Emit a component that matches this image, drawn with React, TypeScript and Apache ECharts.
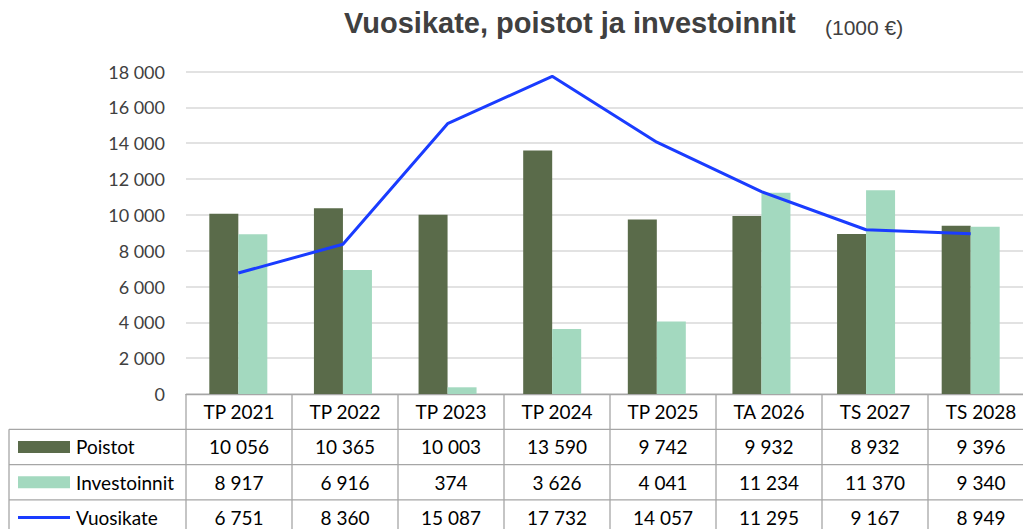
import React, { useEffect, useRef } from "react";
import * as echarts from "echarts";

const categories = ["TP 2021", "TP 2022", "TP 2023", "TP 2024", "TP 2025", "TA 2026", "TS 2027", "TS 2028"];
const poistot = [10056, 10365, 10003, 13590, 9742, 9932, 8932, 9396];
const investoinnit = [8917, 6916, 374, 3626, 4041, 11234, 11370, 9340];
const vuosikate = [6751, 8360, 15087, 17732, 14057, 11295, 9167, 8949];
const seriesNames = ["Poistot", "Investoinnit", "Vuosikate"];
const yMax = 18000;
const yInterval = 2000;

const C_POISTOT = "#5a6b4a";
const C_INVEST = "#a3d9bf";
const C_LINE = "#1a3cff";
const C_BORDER = "#a6a6a6";

const fmt = (v: number) => String(v).replace(/\B(?=(\d{3})+(?!\d))/g, " ");

const GRID_LEFT = 186;
const GRID_TOP = 71.5;
const GRID_W = 848;
const GRID_H = 322.5;
const ROW_H = 35.3;
const LEG_LEFT = 9;
const TABLE_FONT = "Lato, 'Noto Sans', sans-serif";

export default function App() {
  const ref = useRef<HTMLDivElement>(null);
  useEffect(() => {
    document.body.style.margin = "0";
    const chart = echarts.init(ref.current!, undefined, { renderer: "svg" });
    const colW = GRID_W / categories.length;
    const axisY = GRID_TOP + GRID_H;
    const rowsY = [axisY, axisY + ROW_H, axisY + 2 * ROW_H, axisY + 3 * ROW_H, axisY + 4 * ROW_H];
    const right = GRID_LEFT + GRID_W;
    const graphics: any[] = [];
    const lineStyle = { stroke: C_BORDER, lineWidth: 1.3 };
    for (let r = 1; r <= 3; r++) {
      graphics.push({ type: "line", shape: { x1: LEG_LEFT, y1: rowsY[r], x2: right, y2: rowsY[r] }, style: lineStyle, z: 10 });
    }
    for (let c = 0; c <= categories.length; c++) {
      const x = GRID_LEFT + c * colW;
      graphics.push({ type: "line", shape: { x1: x, y1: axisY, x2: x, y2: rowsY[4] }, style: lineStyle, z: 10 });
    }
    graphics.push({ type: "line", shape: { x1: LEG_LEFT, y1: rowsY[1], x2: LEG_LEFT, y2: rowsY[4] }, style: lineStyle, z: 10 });
    const dataRows = [poistot, investoinnit, vuosikate];
    categories.forEach((cat, c) => {
      const cx = GRID_LEFT + (c + 0.5) * colW;
      graphics.push({
        type: "text", x: cx, y: (rowsY[0] + rowsY[1]) / 2,
        style: { text: cat, fill: "#000", font: `19px ${TABLE_FONT}`, align: "center", verticalAlign: "middle" }, z: 11,
      });
      dataRows.forEach((row, r) => {
        graphics.push({
          type: "text", x: cx, y: (rowsY[r + 1] + rowsY[r + 2]) / 2,
          style: { text: fmt(row[c]), fill: "#000", font: `19px ${TABLE_FONT}`, align: "center", verticalAlign: "middle" }, z: 11,
        });
      });
    });
    seriesNames.forEach((name, r) => {
      const cy = (rowsY[r + 1] + rowsY[r + 2]) / 2;
      if (r < 2) {
        graphics.push({ type: "rect", shape: { x: 18, y: cy - 6, width: 52, height: 12 }, style: { fill: r === 0 ? C_POISTOT : C_INVEST }, z: 11 });
      } else {
        graphics.push({ type: "line", shape: { x1: 18, y1: cy, x2: 70, y2: cy }, style: { stroke: C_LINE, lineWidth: 3 }, z: 11 });
      }
      graphics.push({
        type: "text", x: 76, y: cy,
        style: { text: name, fill: "#000", font: `19px ${TABLE_FONT}`, align: "left", verticalAlign: "middle" }, z: 11,
      });
    });

    graphics.push({
      type: "text", x: 344, y: 23,
      style: { text: "Vuosikate, poistot ja investoinnit", fill: "#404040", font: "bold 29px 'Liberation Sans', Arial, sans-serif", align: "left", verticalAlign: "middle" }, z: 11,
    });
    graphics.push({
      type: "text", x: 825, y: 27,
      style: { text: "(1000 €)", fill: "#404040", font: "21px 'Liberation Sans', Arial, sans-serif", align: "left", verticalAlign: "middle" }, z: 11,
    });

    chart.setOption({
      animation: false,
      grid: { left: GRID_LEFT, top: GRID_TOP, width: GRID_W, height: GRID_H, containLabel: false },
      xAxis: {
        type: "category",
        data: categories,
        axisLabel: { show: false },
        axisTick: { show: false },
        axisLine: { lineStyle: { color: C_BORDER, width: 1.3 } },
      },
      yAxis: {
        type: "value",
        min: 0,
        max: yMax,
        interval: yInterval,
        axisLabel: { formatter: (v: number) => fmt(v), color: "#404040", fontSize: 18, fontFamily: TABLE_FONT, margin: 21 },
        axisLine: { show: false },
        axisTick: { show: false },
        splitLine: { lineStyle: { color: "#d9d9d9", width: 1.5 } },
      },
      series: [
        { name: seriesNames[0], type: "bar", data: poistot, barWidth: 29, barGap: "0%", itemStyle: { color: C_POISTOT } },
        { name: seriesNames[1], type: "bar", data: investoinnit, barWidth: 29, barGap: "0%", itemStyle: { color: C_INVEST } },
        { name: seriesNames[2], type: "line", data: vuosikate, symbol: "none", lineStyle: { color: C_LINE, width: 3 }, z: 5 },
      ],
      graphic: graphics,
    });
    return () => chart.dispose();
  }, []);
  return <div ref={ref} style={{ width: 1023, height: 529, position: "absolute", left: 0, top: 0 }} />;
}
